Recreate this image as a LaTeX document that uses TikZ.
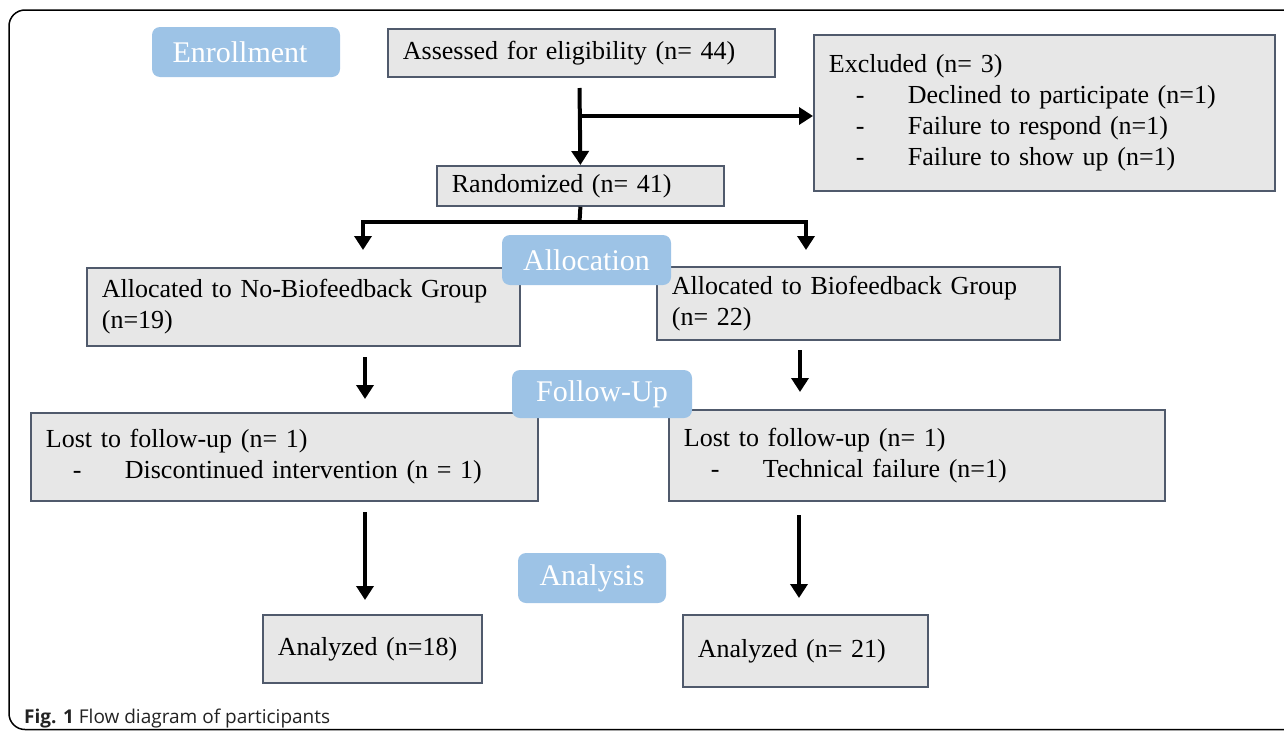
\documentclass[tikz,border=0pt]{standalone}
\usepackage{fontspec}
\setmainfont{Liberation Serif}[WordSpace=0.72]
\newfontfamily\capfont{Open Sans}
\usetikzlibrary{arrows.meta,calc}
\definecolor{boxfill}{HTML}{E7E7E7}
\definecolor{boxborder}{HTML}{505A6C}
\definecolor{labfill}{HTML}{9DC3E6}
\definecolor{captext}{HTML}{222222}
\newcommand{\mainsz}{\fontsize{26pt}{31pt}\selectfont}
\newcommand{\labsz}{\fontsize{30pt}{34pt}\selectfont}
\newcommand{\itm}[1]{\makebox[79pt][l]{\hspace{27pt}-}#1}
\begin{document}
\begin{tikzpicture}[x=1pt,y=-1pt,
  box/.style={draw=boxborder, fill=boxfill, line width=1.8pt, inner xsep=15pt, inner ysep=0pt,
              anchor=north west, align=left, font=\mainsz, text=black},
  lab/.style={fill=labfill, rounded corners=8pt, text=white, font=\labsz, inner sep=0pt, anchor=center},
  arr/.style={line width=4pt, -{Triangle[width=17pt,length=14pt]}},
  thk/.style={line width=4pt}
]
\useasboundingbox (0,0) rectangle (1284,731);
\begin{scope}
\clip (0,0) rectangle (1284,731);
\draw[line width=1.5pt, rounded corners=16pt] (9,729.5) rectangle (1320,10);
\end{scope}

% boxes
\node[box, minimum width=387pt, minimum height=48pt, text width=357pt] (assess) at (387,28) {Assessed for eligibility (n= 44)};
\node[box, minimum width=461pt, minimum height=156pt, text width=431pt] (excl) at (813,34)
  {Excluded (n= 3)\\ \itm{Declined to participate (n=1)}\\ \itm{Failure to respond (n=1)}\\ \itm{Failure to show up (n=1)}};
\node[box, minimum width=287pt, minimum height=40pt, text width=257pt] (rand) at (436,165) {Randomized (n= 41)};
\node[box, minimum width=433pt, minimum height=78pt, text width=403pt] (allocL) at (86,267) {Allocated to No-Biofeedback Group\\(n=19)};
\node[box, minimum width=403pt, minimum height=73pt, text width=373pt] (allocR) at (656,266) {Allocated to Biofeedback Group\\(n= 22)};
\node[box, minimum width=507pt, minimum height=88pt, text width=477pt] (lostL) at (30,412) {Lost to follow-up (n= 1)\\ \itm{Discontinued intervention (n = 1)}};
\node[box, minimum width=496pt, minimum height=91pt, text width=466pt] (lostR) at (668,409) {Lost to follow-up (n= 1)\\ \itm{Technical failure (n=1)}};
\node[box, minimum width=219pt, minimum height=68pt, text width=189pt] (anaL) at (262,614) {Analyzed (n=18)};
\node[box, minimum width=245pt, minimum height=72pt, text width=215pt] (anaR) at (682,614) {Analyzed (n= 21)};

% labels
\node[lab, minimum width=188pt, minimum height=50pt] (lenroll) at (246,52) {\hspace*{-12pt}Enrollment};
\node[lab, minimum width=169pt, minimum height=50pt] (lalloc) at (586.5,260) {Allocation};
\node[lab, minimum width=180pt, minimum height=48pt] (lfollow) at (602,394) {Follow-Up};
\node[lab, minimum width=148pt, minimum height=50pt] (lanalysis) at (592,578) {Analysis};

% connectors
\coordinate (a0) at (579.5,88);
\coordinate (br) at (579.5,116);
\draw[arr] (a0) -- (rand.north);
\draw[arr] (br) -- (br -| excl.west);

\coordinate (sp) at (579.5,222);
\coordinate (tipL) at (363,250);
\coordinate (tipR) at (806,250);
\draw[thk] (rand.south) -- (sp);
\draw[arr] (sp) -| (tipL);
\draw[arr] (sp) -| (tipR);

\coordinate (l1s) at (365,357);
\coordinate (l1e) at (365,399);
\coordinate (r1s) at (800,350);
\coordinate (r1e) at (800,392);
\draw[arr] (l1s) -- (l1e);
\draw[arr] (r1s) -- (r1e);

\coordinate (l2s) at (365,512);
\coordinate (l2e) at (365,600);
\coordinate (r2s) at (799,515);
\coordinate (r2e) at (799,598);
\draw[arr] (l2s) -- (l2e);
\draw[arr] (r2s) -- (r2e);

% caption
\node[anchor=base west, inner sep=0pt, font=\capfont\fontsize{19pt}{22pt}\selectfont, text=captext] (cap) at (24,723) {\textbf{Fig. 1} Flow diagram of participants};
\end{tikzpicture}
\end{document}
